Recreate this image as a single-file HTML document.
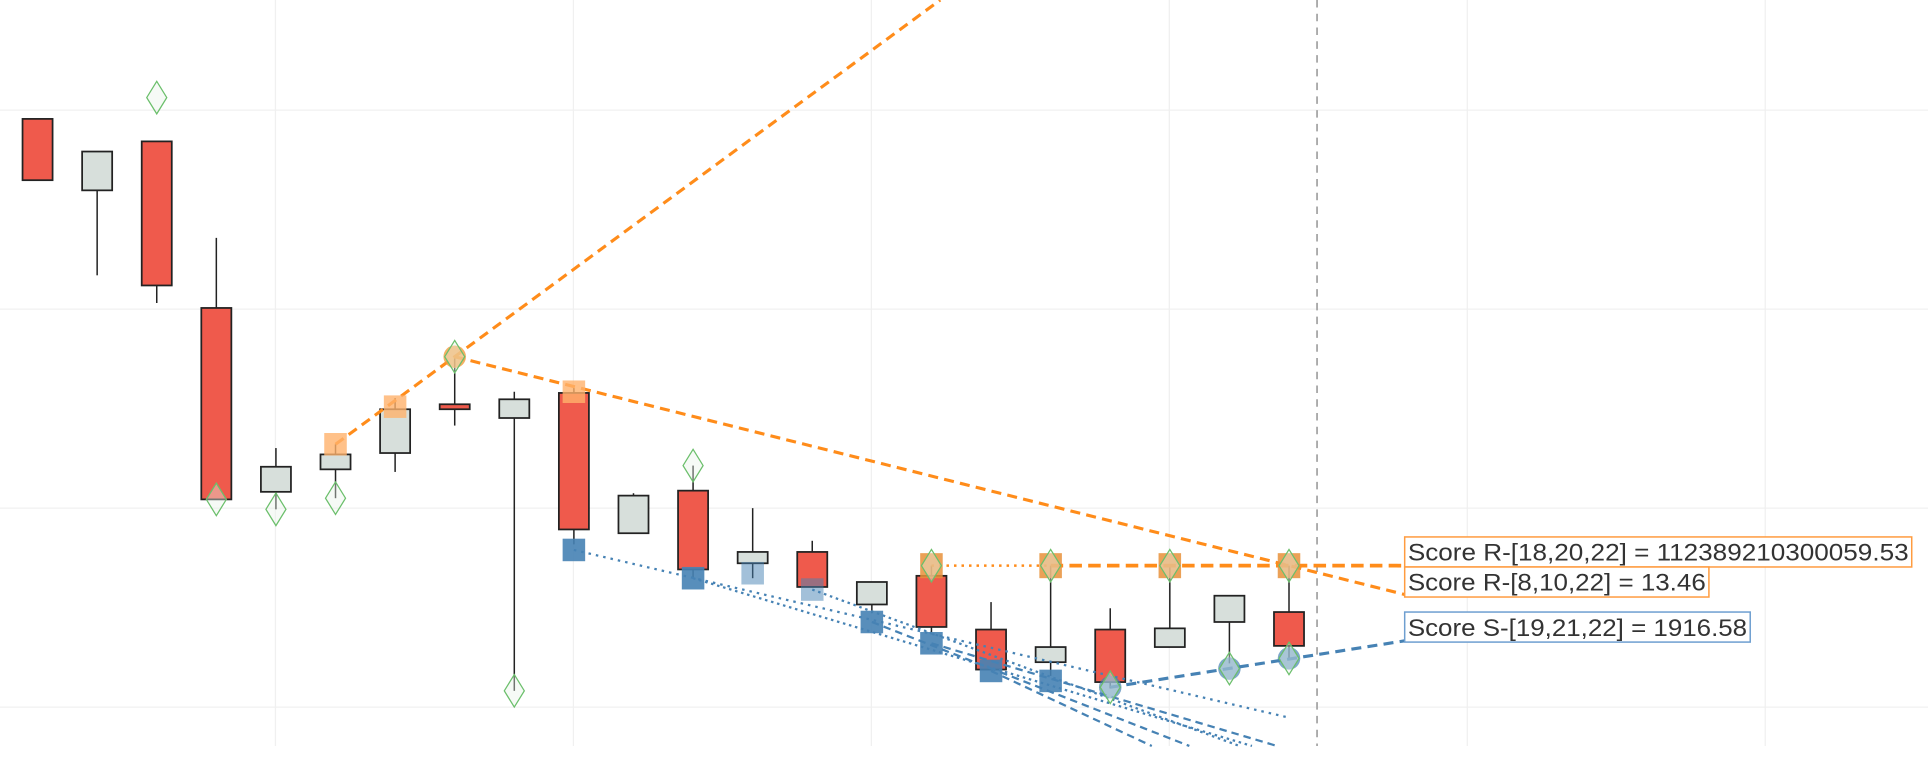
<!DOCTYPE html>
<html><head><meta charset="utf-8"><style>
html,body{margin:0;padding:0;background:#fff;width:1928px;height:776px;overflow:hidden}
svg{display:block}
text{font-family:"Liberation Sans",sans-serif;fill:#333}
</style></head><body>
<svg id="chart" width="1928" height="776" viewBox="0 0 1540 620" preserveAspectRatio="none" xmlns="http://www.w3.org/2000/svg">
<g id="grid"></g>
<g id="marks"></g>
</svg>
<script>
const opens  = [129.56,125.97,128.43,120.06,110.82,111.95,112.77,115.22,114.53,115.79,108.74,110.88,107.23,107.80,105.16,106.60,103.90,102.26,103.90,103.02,104.28,104.78];
const closes = [126.48,127.92,121.19,110.44,112.08,112.70,114.97,114.97,115.47,108.93,110.63,106.92,107.80,106.04,106.29,104.03,101.89,103.02,101.26,103.96,105.60,103.08];
const highs  = [129.56,127.92,128.43,123.58,113.02,113.21,115.53,117.61,115.85,116.04,110.75,112.14,110.00,108.36,106.29,107.11,105.28,107.11,104.97,107.11,105.60,107.11];
const lows   = [126.48,121.70,120.31,110.44,109.94,110.50,111.82,114.15,100.82,108.18,108.74,106.48,106.48,106.04,104.72,103.65,101.89,101.57,100.94,103.02,102.20,102.39];
const yTicks = [100,110,120,130];
const resistIdx = [5,6,7,9];
const resistVal = [113.21,115.10,117.61,115.85];
const flatIdx = [15,17,19,21];
const flatVal = 107.11;
const supIdx = [9,11,12,13,14,15,16,17];
const supVal = [107.90,106.48,106.73,105.91,104.28,103.21,101.82,101.32];
const supLight = [false,false,true,true,false,false,false,false];
const sCircIdx = [18,20,21];
const sCircVal = [101.00,101.94,102.45];
const diaIdx = [2,3,4,5,7,8,11,15,17,19,21,18,20,21];
const diaVal = [130.63,110.44,109.94,110.50,117.61,100.82,112.14,107.11,107.11,107.11,107.11,101.00,101.94,102.45];
const labels = ["Score R-[18,20,22] = 112389210300059.53","Score R-[8,10,22] = 13.46","Score S-[19,21,22] = 1916.58"];

const NS="http://www.w3.org/2000/svg";
const X = i => 30 + 47.6*i;
const Y = v => 565 - (v-100)*15.9;
function mk(tag, attrs, parent){const e=document.createElementNS(NS,tag);for(const k in attrs)e.setAttribute(k,attrs[k]);parent.appendChild(e);return e;}
const grid=document.getElementById('grid'), marks=document.getElementById('marks');
yTicks.forEach(t=>{const l=mk('line',{x1:0,x2:1540,y1:Y(t),y2:Y(t),stroke:'#f0f0f0','stroke-width':1},grid);

});
[220,458,696,934,1172,1410].forEach(x=>{const l=mk('line',{x1:x,x2:x,y1:0,y2:596,stroke:'#f0f0f0','stroke-width':1},grid);

});
const vd=mk('line',{x1:1052,x2:1052,y1:0,y2:596,stroke:'#aaa','stroke-width':1.5,'stroke-dasharray':'6,5'},grid);



opens.forEach((o,i)=>{
  const c=closes[i], x=X(i), g=mk('g',{},marks);
  
  
  mk('line',{x1:x,x2:x,y1:Y(highs[i]),y2:Y(lows[i]),stroke:'#222','stroke-width':1.2},g);
  const top=Math.min(Y(o),Y(c)), h=Math.max(Math.abs(Y(o)-Y(c)),3);
  mk('rect',{x:x-12,y:top,width:24,height:h,fill:c<o?'#ef5a4c':'#d7dfdb',stroke:'#222','stroke-width':1.4},g);
});
const blues=[[0,1028,573,'2,4'],[1,1000,596,'2,3'],[3,990,596,'2,3'],[4,950,596,'6,4'],[5,1020,596,'6,4'],[6,920,596,'6,4']];
blues.forEach(b=>{const i=b[0];const l=mk('line',{x1:X(supIdx[i]),y1:Y(supVal[i]),x2:b[1],y2:b[2],stroke:'#4682b4','stroke-width':1.8,'stroke-dasharray':b[3]},marks);

});
const sl=mk('line',{x1:X(sCircIdx[0]),y1:Y(sCircVal[0]),x2:1122,y2:512,stroke:'#4682b4','stroke-width':2.5,'stroke-dasharray':'8,5'},marks);


const r0x=X(resistIdx[0]),r0y=Y(resistVal[0]),r2x=X(resistIdx[2]),r2y=Y(resistVal[2]);
const sl2=(r2y-r0y)/(r2x-r0x);
const o1=mk('line',{x1:r0x,y1:r0y,x2:r0x+(0-r0y)/sl2,y2:0,stroke:'#ff8c1a','stroke-width':2.5,'stroke-dasharray':'8,5'},marks);


const o2=mk('line',{x1:r2x,y1:r2y,x2:1122,y2:475,stroke:'#ff8c1a','stroke-width':2.5,'stroke-dasharray':'8,5'},marks);


const o3=mk('line',{x1:X(flatIdx[0]),y1:Y(flatVal),x2:X(flatIdx[1]),y2:Y(flatVal),stroke:'#ff8c1a','stroke-width':2,'stroke-dasharray':'2,4'},marks);


const o4=mk('line',{x1:X(flatIdx[1]),y1:Y(flatVal),x2:1122,y2:Y(flatVal),stroke:'#ff8c1a','stroke-width':3,'stroke-dasharray':'10,5'},marks);


resistIdx.forEach((ix,k)=>{const x=X(ix),y=Y(resistVal[k]);
 const m = k==2 ? mk('circle',{cx:x,cy:y,r:9,fill:'#f39c3c','fill-opacity':0.8},marks) : mk('rect',{x:x-9,y:y-9,width:18,height:18,fill:'#ffb26b','fill-opacity':0.8},marks);
 
 });
flatIdx.forEach(ix=>{const m=mk('rect',{x:X(ix)-9,y:Y(flatVal)-10,width:18,height:20,fill:'#e8903a','fill-opacity':0.85},marks);
 
 });
supIdx.forEach((ix,k)=>{const m=mk('rect',{x:X(ix)-9,y:Y(supVal[k])-9,width:18,height:18,fill:'#4682b4','fill-opacity':supLight[k]?0.5:0.9},marks);
 
 });
sCircIdx.forEach((ix,k)=>{const m=mk('circle',{cx:X(ix),cy:Y(sCircVal[k]),r:9,fill:'#4682b4','fill-opacity':0.7},marks);
 
 });
diaIdx.forEach((ix,k)=>{const x=X(ix),y=Y(diaVal[k]);
 const m=mk('polygon',{points:`${x},${y-13} ${x+8},${y} ${x},${y+13} ${x-8},${y}`,fill:'#e8f3e8','fill-opacity':0.4,stroke:'#6bbf6b','stroke-width':1},marks);
 
 });
const lb=[[441,405,'#ff9c40'],[465,243,'#ff9c40'],[501,276,'#6e9fd0']];
labels.forEach((t,k)=>{const g=mk('g',{},marks);
 
 
 const y=lb[k][0];
 mk('rect',{x:1122,y:y-12,width:lb[k][1],height:24,fill:'#fff',stroke:lb[k][2],'stroke-width':1.2},g);
 const tx=mk('text',{x:1124.5,y:y+7,'font-size':19.5,textLength:lb[k][1]-5,lengthAdjust:'spacingAndGlyphs'},g);
 tx.textContent=t;});
</script>
</body></html>
